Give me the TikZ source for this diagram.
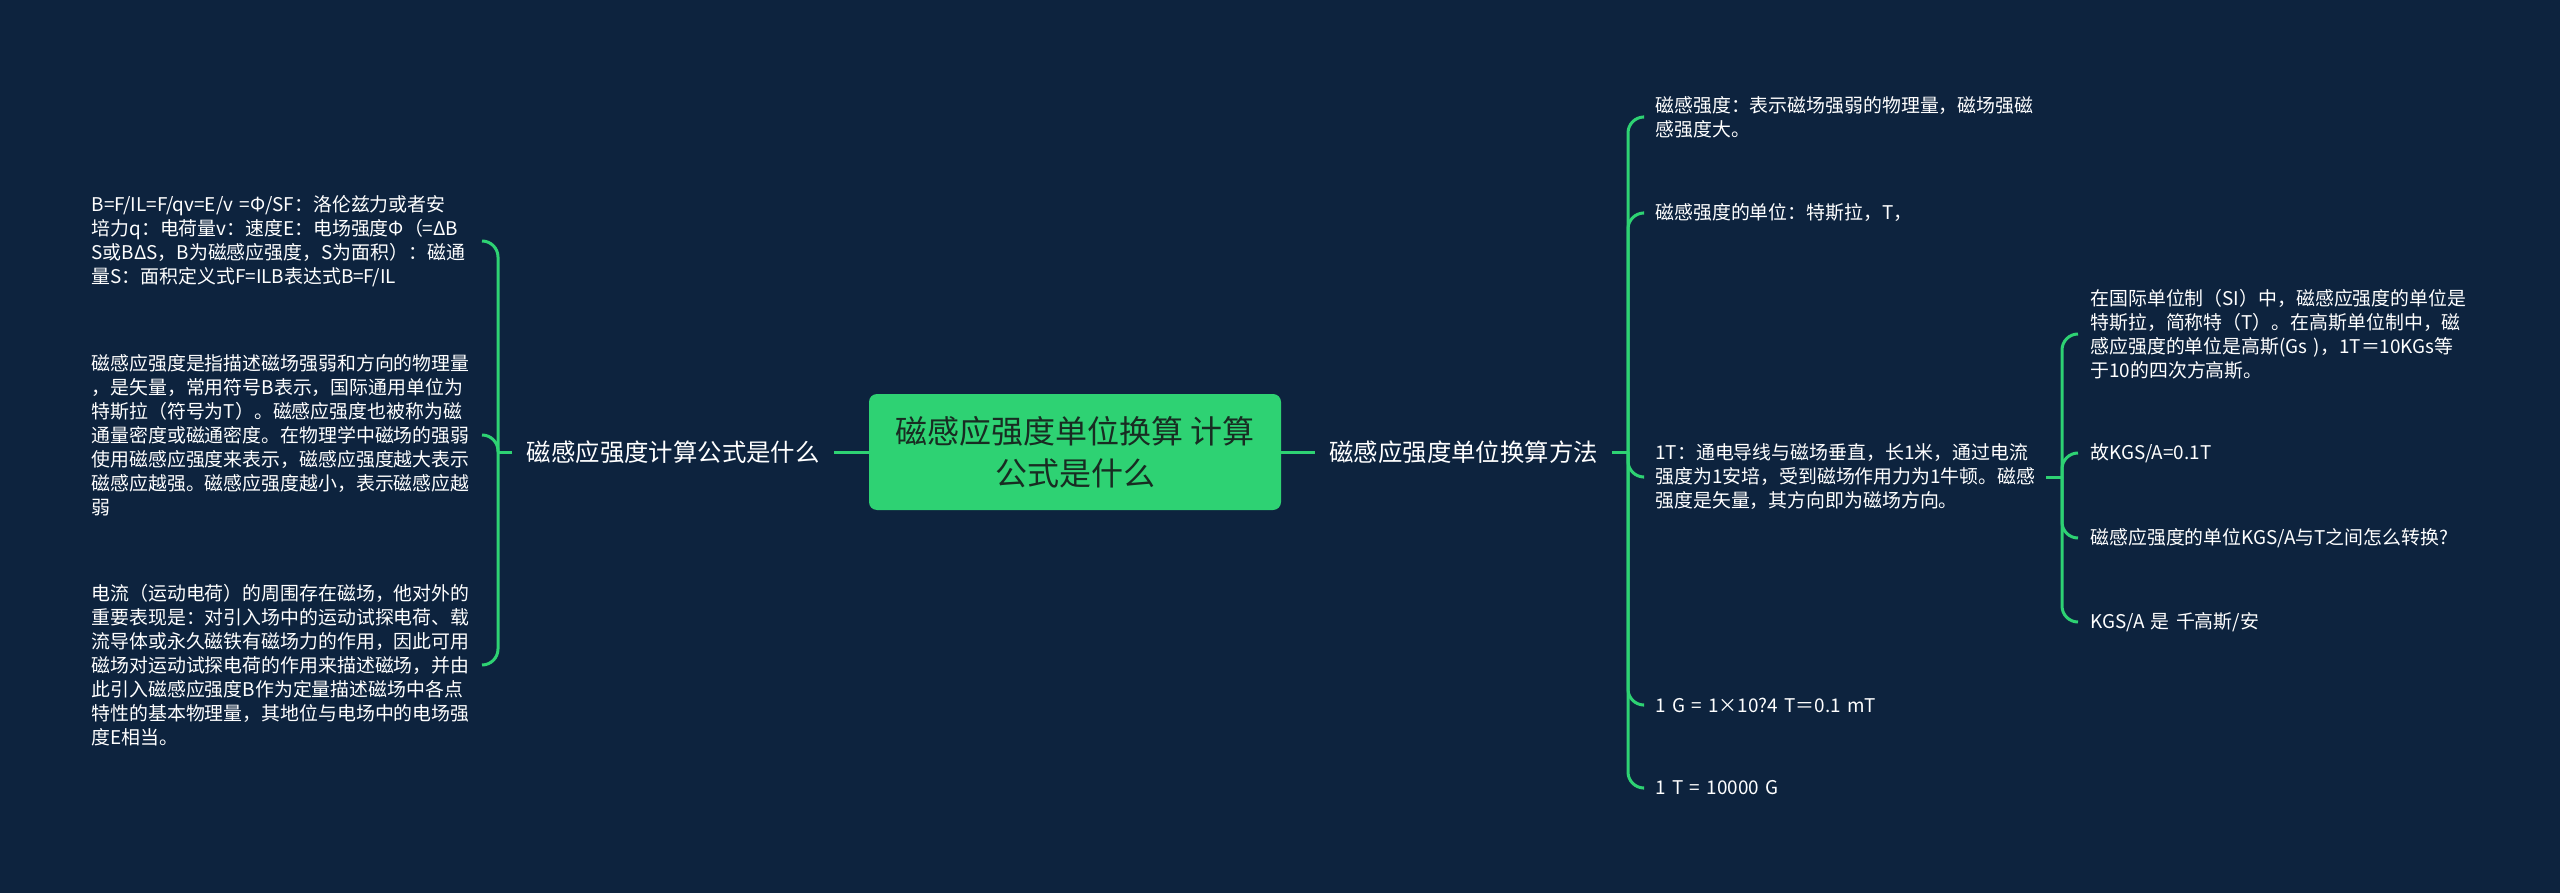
\documentclass[tikz,border=0pt]{standalone}
\usepackage{fontspec}
\setmainfont{Noto Sans CJK SC}
\definecolor{bgnavy}{RGB}{13,35,62}
\definecolor{mapgreen}{RGB}{46,210,115}
\definecolor{roottext}{RGB}{24,44,34}
\begin{document}
\begin{tikzpicture}[
    x=0.5pt,
    y=-0.5pt,
    root/.style={
        fill=mapgreen,
        rounded corners=4pt,
        minimum width=206pt,
        minimum height=58pt,
        align=center,
        text=roottext,
        font=\fontsize{16}{21}\selectfont
    },
    branch/.style={text=white, inner xsep=7pt, font=\fontsize{12.2}{15}\selectfont},
    leaf/.style={
        text=white,
        inner xsep=6pt,
        inner ysep=0pt,
        text width=189pt,
        align=left,
        font=\fontsize{9.45}{12}\selectfont
    },
    link/.style={draw=mapgreen, line width=1.5pt, rounded corners=8pt}
]
    \fill[bgnavy] (0,0) rectangle (2560,893);

    \node[root] (root) at (1075,452) {磁感应强度单位换算 计算\\公式是什么};
    \node[branch, anchor=east] (calc) at (834,452) {磁感应强度计算公式是什么};
    \node[branch, anchor=west] (unit) at (1315,452) {磁感应强度单位换算方法};

    \coordinate (calcJ) at (498,452);
    \coordinate (unitJ) at (1628,452);
    \coordinate (teslaJ) at (2062,477);

    \node[leaf, anchor=east] (formula) at (482,241) {B=F/IL=F/qv=E/v =Φ/SF：洛伦兹力或者安\\培力q：电荷量v：速度E：电场强度Φ（=ΔB\\S或BΔS，B为磁感应强度，S为面积）：磁通\\量S：面积定义式F=ILB表达式B=F/IL};
    \node[leaf, anchor=east] (define) at (482,435) {磁感应强度是指描述磁场强弱和方向的物理量\\，是矢量，常用符号B表示，国际通用单位为\\特斯拉（符号为T）。磁感应强度也被称为磁\\通量密度或磁通密度。在物理学中磁场的强弱\\使用磁感应强度来表示，磁感应强度越大表示\\磁感应越强。磁感应强度越小，表示磁感应越\\弱};
    \node[leaf, anchor=east] (source) at (482,665) {电流（运动电荷）的周围存在磁场，他对外的\\重要表现是：对引入场中的运动试探电荷、载\\流导体或永久磁铁有磁场力的作用，因此可用\\磁场对运动试探电荷的作用来描述磁场，并由\\此引入磁感应强度B作为定量描述磁场中各点\\特性的基本物理量，其地位与电场中的电场强\\度E相当。};

    \node[leaf, anchor=west] (meaning) at (1643,117) {磁感强度：表示磁场强弱的物理量，磁场强磁\\感强度大。};
    \node[leaf, anchor=west] (tesla) at (1643,213) {磁感强度的单位：特斯拉，T，};
    \node[leaf, anchor=west] (oneT) at (1643,477) {1T：通电导线与磁场垂直，长1米，通过电流\\强度为1安培，受到磁场作用力为1牛顿。磁感\\强度是矢量，其方向即为磁场方向。};
    \node[leaf, anchor=west] (gauss) at (1643,705) {1 G = 1×10?4 T＝0.1 mT};
    \node[leaf, anchor=west] (tenk) at (1643,788) {1 T = 10000 G};

    \node[leaf, anchor=west] (si) at (2078,334) {在国际单位制（SI）中，磁感应强度的单位是\\特斯拉，简称特（T）。在高斯单位制中，磁\\感应强度的单位是高斯(Gs )，1T＝10KGs等\\于10的四次方高斯。};
    \node[leaf, anchor=west] (kgs) at (2078,453) {故KGS/A=0.1T};
    \node[leaf, anchor=west] (ask) at (2078,538) {磁感应强度的单位KGS/A与T之间怎么转换?};
    \node[leaf, anchor=west] (kilo) at (2078,622) {KGS/A 是 千高斯/安};

    \draw[link] (root) -- (calc);
    \draw[link] (calc) -- (calcJ);
    \foreach \leafname in {formula,define,source}
        \draw[link] (calcJ) |- (\leafname.east);

    \draw[link] (root) -- (unit);
    \draw[link] (unit) -- (unitJ);
    \foreach \leafname in {meaning,tesla,oneT,gauss,tenk}
        \draw[link] (unitJ) |- (\leafname.west);

    \draw[link] (oneT) -- (teslaJ);
    \foreach \leafname in {si,kgs,ask,kilo}
        \draw[link] (teslaJ) |- (\leafname.west);
\end{tikzpicture}
\end{document}
